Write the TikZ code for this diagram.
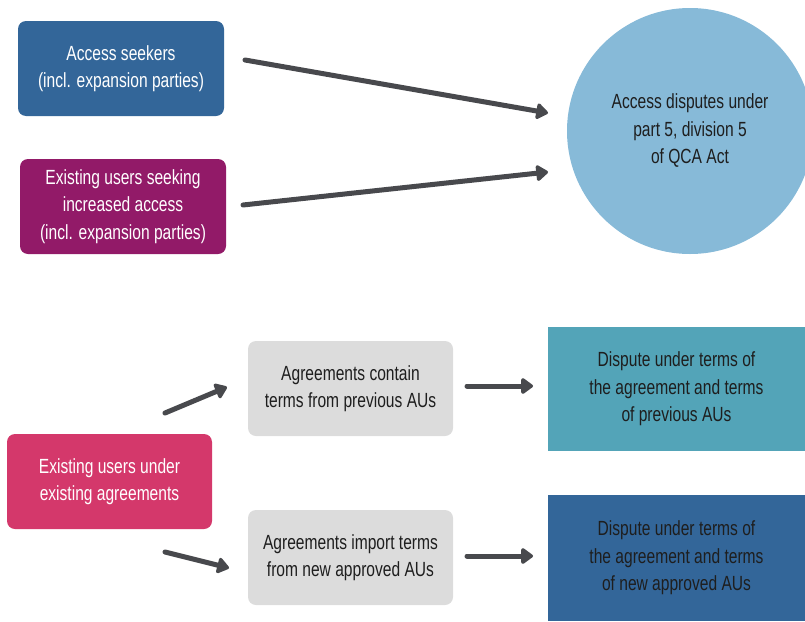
\documentclass[tikz,border=0pt]{standalone}
\usepackage{fontspec}
\setmainfont[FakeStretch=0.76]{Liberation Sans}
\usetikzlibrary{arrows.meta}
\definecolor{cblue}{HTML}{336699}
\definecolor{cpurple}{HTML}{921A68}
\definecolor{cpink}{HTML}{D4386B}
\definecolor{ccircle}{HTML}{87BAD8}
\definecolor{cgray}{HTML}{DCDCDC}
\definecolor{cteal}{HTML}{53A4B8}
\definecolor{carrow}{HTML}{48494D}
\definecolor{ctext}{HTML}{1E1E1E}
\tikzset{
  box/.style={rounded corners=8pt, inner sep=0pt, align=center, font=\fontsize{20.5}{27.5}\selectfont},
  lightbox/.style={box, fill=cgray, text=ctext},
  squarebox/.style={inner sep=0pt, align=center, font=\fontsize{20.5}{27.5}\selectfont, text=ctext},
  conn/.style={draw=carrow, line width=5pt, line cap=round, -{Triangle[length=13pt,width=18pt,round]}},
}
\begin{document}
\begin{tikzpicture}[x=1pt,y=-1pt]
\useasboundingbox (0,0) rectangle (805,621);
% top section
\node[box, fill=cblue, text=white, minimum width=206pt, minimum height=95pt] (seek) at (121,68.5)
  {Access seekers\\(incl. expansion parties)};
\node[box, fill=cpurple, text=white, minimum width=206pt, minimum height=95pt] (incr) at (123,206.5)
  {Existing users seeking\\increased access\\(incl. expansion parties)};
\node[circle, fill=ccircle, minimum size=246pt, inner sep=0pt] (qca) at (690,131) {};
\node[squarebox, anchor=center] (qcatext) at (690,131) {Access disputes under\\part 5, division 5\\of QCA Act};
\coordinate (a1s) at (245,60);
\coordinate (a1e) at (548,113);
\coordinate (a2s) at (243,205);
\coordinate (a2e) at (548,172);
\draw[conn] (a1s) -- (a1e);
\draw[conn] (a2s) -- (a2e);
% bottom section
\node[box, fill=cpink, text=white, minimum width=205pt, minimum height=95pt] (exist) at (109.5,481.5)
  {Existing users under\\existing agreements};
\node[lightbox, minimum width=205pt, minimum height=95pt] (contain) at (350.5,388.5)
  {Agreements contain\\terms from previous AUs};
\node[lightbox, minimum width=205pt, minimum height=95pt] (import) at (350.5,557.5)
  {Agreements import terms\\from new approved AUs};
\node[squarebox, fill=cteal, minimum width=257pt, minimum height=124pt] (prev) at (676.5,389)
  {Dispute under terms of\\the agreement and terms\\of previous AUs};
\node[squarebox, fill=cblue, minimum width=257pt, minimum height=126pt] (newau) at (676.5,558)
  {Dispute under terms of\\the agreement and terms\\of new approved AUs};
\coordinate (b1s) at (165,413);
\coordinate (b1e) at (227,387);
\coordinate (b2s) at (165,552);
\coordinate (b2e) at (229,568);
\coordinate (c1s) at (467,386);
\coordinate (c1e) at (533,386);
\coordinate (c2s) at (467,556);
\coordinate (c2e) at (533,556);
\draw[conn] (b1s) -- (b1e);
\draw[conn] (b2s) -- (b2e);
\draw[conn] (c1s) -- (c1e);
\draw[conn] (c2s) -- (c2e);
\end{tikzpicture}
\end{document}
